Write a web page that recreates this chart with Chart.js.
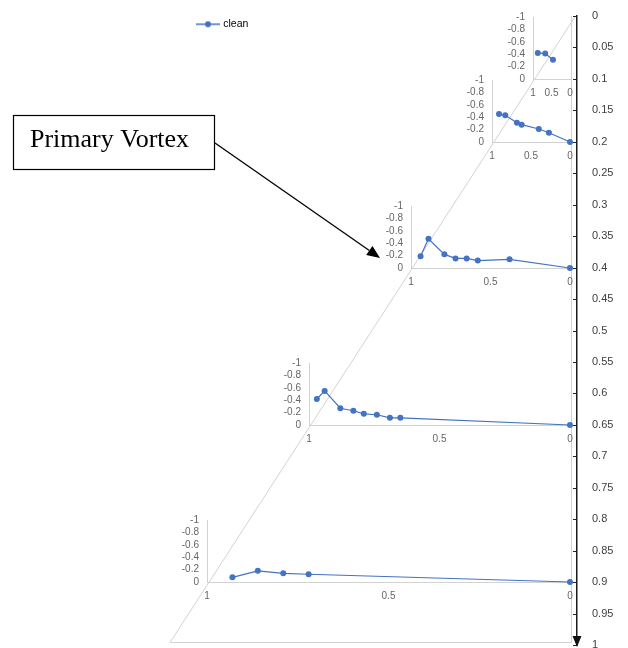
<!DOCTYPE html>
<html>
<head>
<meta charset="utf-8">
<script src="https://cdn.jsdelivr.net/npm/chart.js@4.4.1/dist/chart.umd.min.js"></script>
<style>
  html, body { margin: 0; padding: 0; background: #fff; }
  #stage { position: relative; width: 628px; height: 648px; overflow: hidden; }
  #stage canvas { position: absolute; left: 0; top: 0; }
</style>
</head>
<body>
<div id="stage"><canvas id="main" width="628" height="648"></canvas></div>
<script>
// ---- data -------------------------------------------------------------
const seriesName = 'clean';

// stations along the depth axis (0 at top, 1 at bottom)
const depthMin = 0;
const depthMax = 1;
const depthStep = 0.05;
const stationDepths = [0.1, 0.2, 0.4, 0.65, 0.9];

// profile at each station: position across (1 .. 0) and value (0 .. -1)
const posAt010 = [0.87, 0.67, 0.46];
const valAt010 = [-0.42, -0.41, -0.31];

const posAt020 = [0.91, 0.83, 0.68, 0.62, 0.40, 0.27, 0];
const valAt020 = [-0.45, -0.43, -0.31, -0.28, -0.21, -0.15, 0];

const posAt040 = [0.94, 0.89, 0.79, 0.72, 0.65, 0.58, 0.38, 0];
const valAt040 = [-0.19, -0.47, -0.22, -0.155, -0.155, -0.12, -0.14, 0];

const posAt065 = [0.97, 0.94, 0.88, 0.83, 0.79, 0.74, 0.69, 0.65, 0];
const valAt065 = [-0.42, -0.55, -0.27, -0.23, -0.18, -0.165, -0.115, -0.115, 0];

const posAt090 = [0.93, 0.86, 0.79, 0.72, 0];
const valAt090 = [-0.075, -0.18, -0.14, -0.125, 0];

const stationPos = [posAt010, posAt020, posAt040, posAt065, posAt090];
const stationVal = [valAt010, valAt020, valAt040, valAt065, valAt090];

const annotationText = 'Primary Vortex';

// ---- styling ----------------------------------------------------------
const BLUE = '#4472C4';
const FRAME_GREY = '#d2d2d2';
const LABEL_GREY = '#666666';
const FONT = 'Liberation Sans';

// floor edge of the receding frame: x of the "1" end at a given depth
const frontX = d => 574 - 408 * d;
const WALL_X = 570;          // x of the "0" end of every station
const PANEL_H = 62;          // height of the 0 .. -1 range of each station

// legend symbol: short line with a marker
const legendIcon = document.createElement('canvas');
legendIcon.width = 24; legendIcon.height = 8;
(() => {
  const c = legendIcon.getContext('2d');
  c.strokeStyle = BLUE; c.lineWidth = 1.5;
  c.beginPath(); c.moveTo(0, 4); c.lineTo(24, 4); c.stroke();
  c.fillStyle = BLUE;
  c.beginPath(); c.arc(12, 4, 3, 0, Math.PI * 2); c.fill();
})();

// frame lines, inward tick marks, axis arrow and the annotation box
const framePlugin = {
  id: 'frame',
  afterDraw(chart) {
    const ctx = chart.ctx;
    const ys = chart.scales.y;
    const top = ys.getPixelForValue(depthMin);
    const bottom = ys.getPixelForValue(depthMax);
    const floorY = Math.round(bottom - 3) + 0.5;
    ctx.save();

    ctx.strokeStyle = FRAME_GREY;
    ctx.lineWidth = 1;
    ctx.beginPath();
    ctx.moveTo(575.5, top);
    ctx.lineTo(170, floorY);
    ctx.lineTo(WALL_X + 1.5, floorY);
    ctx.moveTo(WALL_X + 1.5, top);
    ctx.lineTo(WALL_X + 1.5, floorY);
    ctx.stroke();

    // tick marks on the inner side of the depth axis
    const ax = ys.left;
    ctx.strokeStyle = '#222';
    ctx.lineWidth = 1;
    ctx.beginPath();
    ys.ticks.forEach(t => {
      const y = Math.round(ys.getPixelForValue(t.value)) + 0.5;
      ctx.moveTo(ax - 4, y);
      ctx.lineTo(ax, y);
    });
    ctx.stroke();

    // arrow head at the end of the depth axis
    ctx.fillStyle = '#111';
    ctx.beginPath();
    ctx.moveTo(ax - 4.5, bottom - 9);
    ctx.lineTo(ax + 4.5, bottom - 9);
    ctx.lineTo(ax, bottom + 2);
    ctx.closePath();
    ctx.fill();

    // annotation box
    ctx.strokeStyle = '#000';
    ctx.lineWidth = 1.2;
    ctx.strokeRect(13.5, 115.5, 201, 54);
    ctx.fillStyle = '#000';
    ctx.font = '26px "Liberation Serif"';
    ctx.textBaseline = 'alphabetic';
    ctx.textAlign = 'left';
    ctx.fillText(annotationText, 30, 147);

    // pointer from the box
    const x0 = 215, y0 = 143, x1 = 380, y1 = 258;
    const len = Math.hypot(x1 - x0, y1 - y0);
    const ux = (x1 - x0) / len, uy = (y1 - y0) / len;
    const hl = 13, hw = 5.5;
    const bx = x1 - ux * hl, by = y1 - uy * hl;
    ctx.lineWidth = 1.3;
    ctx.beginPath();
    ctx.moveTo(x0, y0);
    ctx.lineTo(bx, by);
    ctx.stroke();
    ctx.beginPath();
    ctx.moveTo(x1, y1);
    ctx.lineTo(bx - uy * hw, by + ux * hw);
    ctx.lineTo(bx + uy * hw, by - ux * hw);
    ctx.closePath();
    ctx.fill();

    ctx.restore();
  }
};

// ---- depth axis chart (with the legend) -------------------------------
const main = new Chart(document.getElementById('main'), {
  type: 'line',
  data: {
    datasets: [{ label: seriesName, data: [], borderColor: BLUE, backgroundColor: BLUE }]
  },
  options: {
    responsive: false,
    animation: false,
    events: [],
    layout: { padding: { left: 179, top: 16, right: 0, bottom: 3 } },
    plugins: {
      tooltip: { enabled: false },
      legend: {
        position: 'chartArea',
        align: 'start',
        labels: {
          usePointStyle: true,
          pointStyleWidth: 20,
          padding: 19,
          color: '#595959',
          font: { family: FONT, size: 10.5 },
          generateLabels: () => [{
            text: seriesName, pointStyle: legendIcon, fillStyle: BLUE,
            strokeStyle: BLUE, lineWidth: 0, hidden: false, datasetIndex: 0
          }]
        }
      }
    },
    scales: {
      x: { type: 'linear', display: false },
      y: {
        position: 'right',
        min: depthMin,
        max: depthMax,
        reverse: true,
        ticks: {
          stepSize: depthStep,
          padding: 15,
          color: '#404040',
          font: { family: FONT, size: 11 },
          callback: v => String(+Number(v).toFixed(2))
        },
        grid: { display: false, drawTicks: false },
        border: { display: true, color: '#1a1a1a', width: 1.5 },
        afterFit: s => { s.width = 51; s.paddingTop = 0; s.paddingBottom = 0; }
      }
    }
  },
  plugins: [framePlugin]
});

// ---- one small profile chart per station ------------------------------
const stage = document.getElementById('stage');
const PAD_L = 40, PAD_R = 8, PAD_T = 8, PAD_B = 22;

stationDepths.forEach((depth, i) => {
  const base = Math.round(main.scales.y.getPixelForValue(depth));
  const front = Math.round(frontX(depth));
  const cv = document.createElement('canvas');
  cv.width = (WALL_X - front) + PAD_L + PAD_R;
  cv.height = PANEL_H + PAD_T + PAD_B;
  cv.style.left = (front - PAD_L) + 'px';
  cv.style.top = (base - PANEL_H - PAD_T) + 'px';
  stage.appendChild(cv);

  const pos = stationPos[i];
  const val = stationVal[i];

  new Chart(cv, {
    type: 'scatter',
    data: {
      datasets: [{
        label: seriesName,
        data: pos.map((p, k) => ({ x: p, y: val[k] })),
        showLine: true,
        borderColor: BLUE,
        backgroundColor: BLUE,
        borderWidth: 1.2,
        pointRadius: 3,
        pointBorderWidth: 0,
        clip: false
      }]
    },
    options: {
      responsive: false,
      animation: false,
      events: [],
      layout: { padding: { top: PAD_T, right: PAD_R, left: 0, bottom: 0 } },
      plugins: { legend: { display: false }, tooltip: { enabled: false } },
      scales: {
        x: {
          type: 'linear', min: 0, max: 1, reverse: true,
          ticks: {
            stepSize: 0.5, autoSkip: false, maxRotation: 0, minRotation: 0,
            padding: 8, color: LABEL_GREY, font: { family: FONT, size: 10 },
            callback: v => String(+Number(v).toFixed(1))
          },
          grid: { display: false, drawTicks: false },
          border: { display: true, color: FRAME_GREY, width: 1 },
          afterFit: s => { s.height = PAD_B; s.paddingLeft = 0; s.paddingRight = 0; }
        },
        y: {
          type: 'linear', min: -1, max: 0, reverse: true,
          ticks: {
            stepSize: 0.2, autoSkip: false, padding: 8, color: LABEL_GREY,
            font: { family: FONT, size: 10 },
            callback: v => String(+Number(v).toFixed(1))
          },
          grid: { display: false, drawTicks: false },
          border: { display: true, color: FRAME_GREY, width: 1 },
          afterFit: s => { s.width = PAD_L; s.paddingTop = 0; s.paddingBottom = 0; }
        }
      }
    }
  });
});
</script>
</body>
</html>
